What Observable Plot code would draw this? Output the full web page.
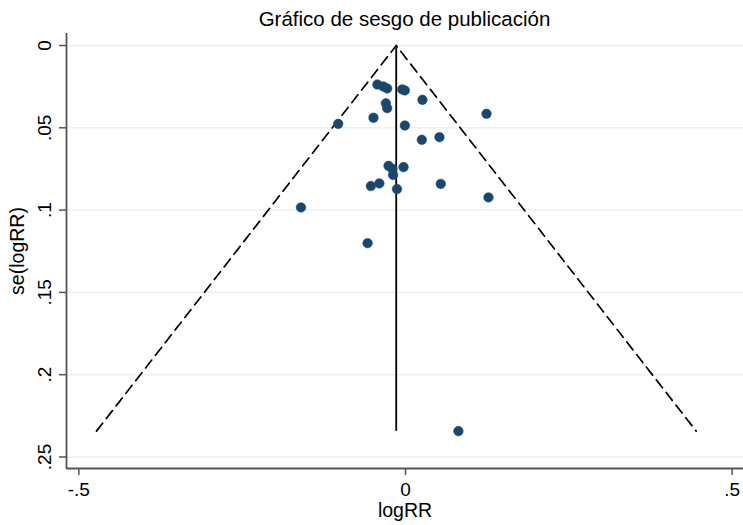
<!DOCTYPE html>
<html>
<head>
<meta charset="utf-8">
<script src="https://cdn.jsdelivr.net/npm/d3@7"></script>
<script src="https://cdn.jsdelivr.net/npm/@observablehq/plot@0.6"></script>
<style>
  html, body { margin: 0; padding: 0; background: #fff; }
  #wrap { width: 743px; height: 525px; font-family: "Liberation Sans", Arial, Helvetica, sans-serif; }
  #title { height: 33px; box-sizing: border-box; padding-top: 2px; padding-left: 66px; line-height: 33px; text-align: center; font-size: 20.5px; color: #000; white-space: nowrap; }
</style>
</head>
<body>
<div id="wrap">
  <div id="title">Gráfico de sesgo de publicación</div>
  <div id="chart"></div>
</div>
<script>
// Study effects (logRR) and their standard errors
const logRR = [-0.043, -0.034, -0.028, -0.005, -0.001, 0.026, -0.030, -0.028, 0.124, -0.049, -0.103, -0.001, 0.025, 0.052,
               -0.026, -0.020, -0.019, -0.003, -0.053, -0.040, -0.013, 0.054, 0.127, -0.160, -0.058, 0.081];
const seLogRR = [0.0237, 0.0249, 0.0261, 0.0267, 0.0273, 0.0330, 0.0351, 0.0381, 0.0415, 0.0439, 0.0476, 0.0486, 0.0573, 0.0557,
                 0.0731, 0.0749, 0.0786, 0.0739, 0.0854, 0.0838, 0.0872, 0.0841, 0.0923, 0.0984, 0.1201, 0.2343];
// Pooled estimate and pseudo 95% confidence limits (funnel)
const pooled = [-0.0142];
const funnelX = [-0.473, -0.0142, 0.445];
const funnelY = [0.2343, 0, 0.2343];
const pooledSpan = [0, 0.2343];
// Tick values and labels
const xTicks = [-0.5, 0, 0.5];
const xTickLabels = ["-.5", "0", ".5"];
const yTicks = [0, 0.05, 0.1, 0.15, 0.2, 0.25];
const yTickLabels = ["0", ".05", ".1", ".15", ".2", ".25"];
const xTitle = ["logRR"];
const yTitle = ["se(logRR)"];

const points = logRR.map((x, i) => ({x, y: seLogRR[i]}));
const funnel = funnelX.map((x, i) => ({x, y: funnelY[i]}));

const axisColor = "#555555";
const font = "Liberation Sans, Arial, Helvetica, sans-serif";
const chart = Plot.plot({
  width: 743,
  height: 492,
  marginLeft: 66,
  marginRight: 0,
  marginTop: 0,
  marginBottom: 57,
  style: {fontFamily: font, background: "#fff", color: "#000", overflow: "visible"},
  x: {domain: [-0.5189, 0.5174], axis: null},
  y: {domain: [-0.0073, 0.257], reverse: true, axis: null},
  marks: [
    Plot.gridY(yTicks, {stroke: "#eaf2f3", strokeOpacity: 1, strokeWidth: 1.5}),
    Plot.line(funnel, {x: "x", y: "y", stroke: "#000", strokeWidth: 1.7, strokeDasharray: "10,6"}),
    Plot.ruleX(pooled, {y1: pooledSpan[0], y2: pooledSpan[1], stroke: "#000", strokeWidth: 1.8}),
    Plot.dot(points, {x: "x", y: "y", r: 4.8, fill: "#1a476f", stroke: "#1a476f", strokeWidth: 0.5}),
    // x axis ticks and labels
    Plot.axisX(xTicks, {tickSize: 7, tickFormat: () => "", stroke: axisColor, strokeWidth: 1.5, label: null}),
    Plot.text(xTicks, {x: d => d, frameAnchor: "bottom", text: (d, i) => xTickLabels[i], lineAnchor: "top", dy: 14, fontSize: 19, fill: "#000"}),
    Plot.text(xTitle, {frameAnchor: "bottom", text: d => d, lineAnchor: "bottom", dy: 48.5, fontSize: 19.5, fill: "#000"}),
    // y axis ticks and labels
    Plot.axisY(yTicks, {tickSize: 7, tickFormat: () => "", stroke: axisColor, strokeWidth: 1.5, label: null}),
    Plot.text(yTicks, {y: d => d, frameAnchor: "left", text: (d, i) => yTickLabels[i], rotate: -90, textAnchor: "middle", lineAnchor: "bottom", dx: -16, fontSize: 19, fill: "#000"}),
    Plot.text(yTitle, {frameAnchor: "left", text: d => d, rotate: -90, textAnchor: "middle", lineAnchor: "bottom", dx: -43, fontSize: 19.5, fill: "#000"}),
    // axis lines
    Plot.ruleY([0.257], {stroke: axisColor, strokeWidth: 1.8}),
    Plot.ruleX([-0.5189], {stroke: axisColor, strokeWidth: 1.8})
  ]
});
document.getElementById("chart").appendChild(chart);
</script>
</body>
</html>
